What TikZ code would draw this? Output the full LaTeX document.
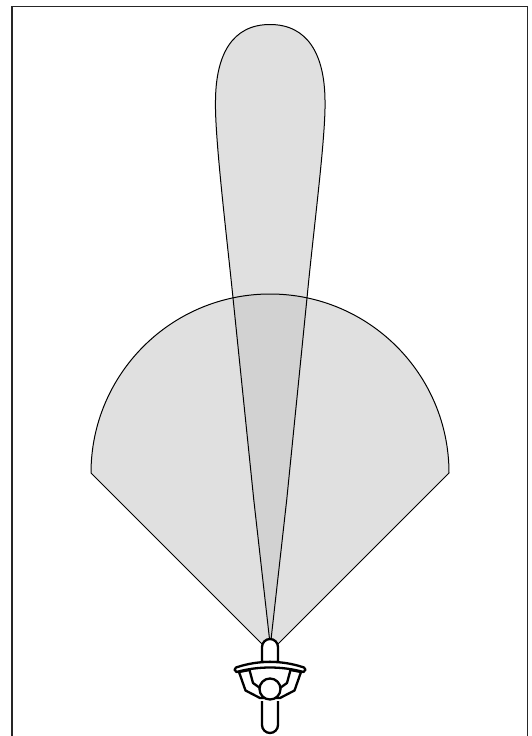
\documentclass[tikz,border=0pt]{standalone}
\definecolor{lobe}{HTML}{E0E0E0}
\definecolor{lobeov}{HTML}{D2D2D2}
\tikzset{
  framebox/.style={draw=black!85,line width=1.3pt},
  lobeline/.style={draw=black,line width=1pt},
  rider/.style={draw=black,line width=2.3pt,line join=round,fill=white},
}
\begin{document}
\begin{tikzpicture}[x=1pt,y=-1pt]
\useasboundingbox (0,0) rectangle (531,736);
\fill[white] (0,0) rectangle (531,736);
\draw[framebox] (12,740) -- (12,6.5) -- (527.5,6.5) -- (527.5,740);
\coordinate (narrowapex) at (270.3,646);
\coordinate (fanapex) at (270,652);
\def\narrow{(narrowapex) -- (253.8,500) -- (232.7,295) .. controls (226,230) and (214.5,135) .. (215.5,100) .. controls (216,55) and (232,24.5) .. (270,24.5) .. controls (308,24.5) and (324.5,55) .. (325,100) .. controls (326,135) and (313.5,230) .. (307.3,295) -- (286.7,500) -- cycle}
\def\fan{(fanapex) -- (91,473) arc[start angle=180,end angle=360,radius=179] -- cycle}
\fill[lobe] \narrow;
\fill[lobe] \fan;
\begin{scope}
\clip \fan;
\fill[lobeov] \narrow;
\end{scope}
\draw[lobeline,line join=round] \narrow;
\draw[lobeline,line join=round] \fan;
% rider
\draw[rider] (262,662) -- (262,647) arc[start angle=180,end angle=360,radius=8] -- (278,662) -- cycle;
\draw[rider] (239,672) -- (245.5,690.5) -- (260,698) -- (280,698) -- (294.5,690.5) -- (301,672) -- (290.5,670) -- (287,683) -- (280,688) -- (260,688) -- (253,683) -- (249.5,670) -- cycle;
\draw[rider] (236,667.5) .. controls (258,660) and (282,660) .. (304,667.5) .. controls (306,668.5) and (306,671) .. (303.5,672) .. controls (282,666) and (258,666) .. (236.5,672) .. controls (234,671) and (234,668.5) .. (236,667.5) -- cycle;
\draw[rider] (262,701) -- (262,725) arc[start angle=180,end angle=0,radius=8] -- (278,701);
\draw[rider] (270,689) circle[radius=10.5];
\end{tikzpicture}
\end{document}
